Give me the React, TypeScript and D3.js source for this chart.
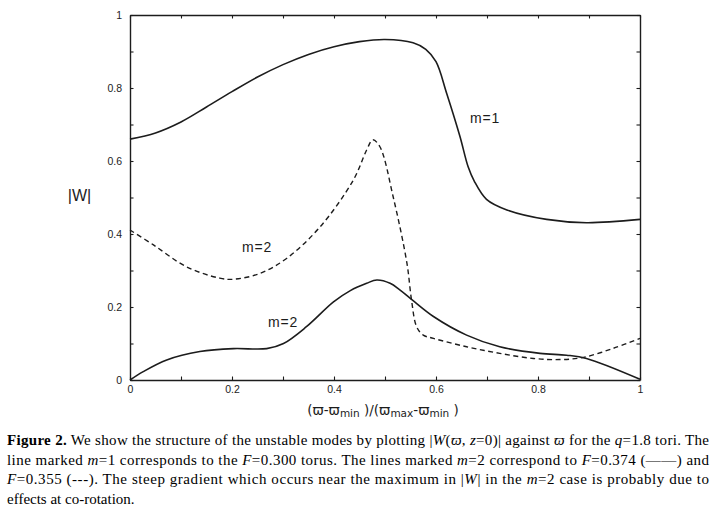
import * as d3 from "d3";
import { useEffect, useRef } from "react";

// m=1, F=0.300 torus (solid)
const m1X = [0, 0.05, 0.1, 0.15, 0.2, 0.25, 0.3, 0.35, 0.4, 0.45, 0.5, 0.555, 0.58, 0.6, 0.621, 0.647, 0.663, 0.675, 0.699, 0.739, 0.817, 0.895, 1.0];
const m1Y = [0.66, 0.677, 0.707, 0.748, 0.79, 0.83, 0.864, 0.892, 0.913, 0.927, 0.933, 0.924, 0.906, 0.872, 0.785, 0.667, 0.584, 0.545, 0.495, 0.466, 0.44, 0.431, 0.44];

// m=2, F=0.355 (dashed)
const m2dX = [0, 0.046, 0.111, 0.176, 0.203, 0.255, 0.307, 0.373, 0.438, 0.464, 0.476, 0.49, 0.516, 0.543, 0.552, 0.562, 0.575, 0.595, 0.66, 0.725, 0.791, 0.843, 0.889, 0.948, 1.0];
const m2dY = [0.411, 0.37, 0.31, 0.279, 0.276, 0.292, 0.333, 0.42, 0.548, 0.63, 0.658, 0.639, 0.502, 0.32, 0.219, 0.146, 0.123, 0.114, 0.091, 0.073, 0.059, 0.056, 0.062, 0.087, 0.114];

// m=2, F=0.374 (solid)
const m2sX = [0, 0.026, 0.072, 0.137, 0.203, 0.268, 0.301, 0.346, 0.399, 0.432, 0.464, 0.484, 0.51, 0.529, 0.552, 0.595, 0.66, 0.725, 0.804, 0.856, 0.895, 1.0];
const m2sY = [0, 0.023, 0.055, 0.078, 0.086, 0.086, 0.1, 0.146, 0.214, 0.245, 0.265, 0.274, 0.265, 0.247, 0.221, 0.174, 0.123, 0.091, 0.073, 0.068, 0.059, 0.002];

const tickValues = d3.range(11).map((i) => i / 10);
const tickLabel = (v: number) => (Math.round(v * 10) % 2 === 0 ? String(v) : "");

const labels = [
  { text: "m=1", x: 0.696, y: 0.718 },
  { text: "m=2", x: 0.249, y: 0.364 },
  { text: "m=2", x: 0.3, y: 0.159 },
];

const W = 726;
const H = 510;
const margin = { left: 130, right: 86, top: 15, bottom: 130 };
const ink = "#1c1c1c";
const sans = "'Liberation Sans', Arial, sans-serif";
const serif = "'Liberation Serif', 'Times New Roman', serif";

export default function App() {
  const gRef = useRef<SVGGElement>(null);
  const width = W - margin.left - margin.right;
  const height = H - margin.top - margin.bottom;
  const x = d3.scaleLinear().domain([0, 1]).range([0, width]);
  const y = d3.scaleLinear().domain([0, 1]).range([height, 0]);

  useEffect(() => {
    const g = d3.select(gRef.current);
    g.selectAll("*").remove();

    const style = (sel: d3.Selection<SVGGElement, unknown, null, undefined>) => {
      sel.select(".domain").attr("stroke", ink).attr("stroke-width", 1.4);
      sel.selectAll(".tick line").attr("stroke", ink).attr("stroke-width", 1.1);
      sel.selectAll(".tick text").attr("fill", ink).attr("font-family", sans).attr("font-size", 10.5);
    };

    g.append("g")
      .attr("transform", `translate(0,${height})`)
      .call(d3.axisBottom(x).tickValues(tickValues).tickFormat((d) => tickLabel(+d)).tickSizeInner(-3.5).tickSizeOuter(0).tickPadding(6))
      .call(style);
    g.append("g")
      .call(d3.axisLeft(y).tickValues(tickValues).tickFormat((d) => tickLabel(+d)).tickSizeInner(-3.5).tickSizeOuter(0).tickPadding(8))
      .call(style);
    g.append("g")
      .call(d3.axisTop(x).tickValues(tickValues).tickFormat(() => "").tickSizeInner(-3.5).tickSizeOuter(0))
      .call(style);
    g.append("g")
      .attr("transform", `translate(${width},0)`)
      .call(d3.axisRight(y).tickValues(tickValues).tickFormat(() => "").tickSizeInner(-3.5).tickSizeOuter(0))
      .call(style);
  }, [width, height]);

  const line = (xs: number[], ys: number[]) =>
    d3
      .line<number>()
      .x((_, i) => x(xs[i]))
      .y((d) => y(d))
      .curve(d3.curveCatmullRom.alpha(0.5))(ys) ?? "";

  const sub = { fontSize: 10.5, baselineShift: "-25%" } as const;

  return (
    <svg width={W} height={H} style={{ position: "absolute", left: 0, top: 0, background: "#fff" }}>
      <g transform={`translate(${margin.left},${margin.top})`}>
        <path d={line(m1X, m1Y)} fill="none" stroke={ink} strokeWidth={1.6} />
        <path d={line(m2sX, m2sY)} fill="none" stroke={ink} strokeWidth={1.6} />
        <path d={line(m2dX, m2dY)} fill="none" stroke={ink} strokeWidth={1.4} strokeDasharray="5,3.5" />
        <g ref={gRef} />
        {labels.map((l, i) => (
          <text key={i} x={x(l.x)} y={y(l.y)} textAnchor="middle" dominantBaseline="central" fontFamily={sans} fontSize={14} letterSpacing={0.8} fill={ink}>
            {l.text}
          </text>
        ))}
      </g>
      <text x={79.5} y={195} textAnchor="middle" dominantBaseline="central" fontFamily={sans} fontSize={16} fill={ink}>
        |W|
      </text>
      <text x={383} y={410} textAnchor="middle" dominantBaseline="central" fontFamily="'DejaVu Sans', sans-serif" fontSize={13.5} fill={ink}>
        (ϖ-ϖ<tspan style={sub}>min</tspan>
        <tspan> )/(ϖ</tspan>
        <tspan style={sub}>max</tspan>
        <tspan>-ϖ</tspan>
        <tspan style={sub}>min</tspan>
        <tspan> )</tspan>
      </text>
      <g fontFamily={serif} fontSize={15} fill="#000">
        <text x={7} y={445} textLength={702} lengthAdjust="spacing">
          <tspan fontWeight="bold">Figure 2.</tspan> We show the structure of the unstable modes by plotting |<tspan fontStyle="italic">W</tspan>(<tspan fontStyle="italic">ϖ</tspan>, <tspan fontStyle="italic">z</tspan>=0)| against <tspan fontStyle="italic">ϖ</tspan> for the <tspan fontStyle="italic">q</tspan>=1.8 tori. The
        </text>
        <text x={7} y={464.5} textLength={702} lengthAdjust="spacing">
          line marked <tspan fontStyle="italic">m</tspan>=1 corresponds to the <tspan fontStyle="italic">F</tspan>=0.300 torus. The lines marked <tspan fontStyle="italic">m</tspan>=2 correspond to <tspan fontStyle="italic">F</tspan>=0.374 (——) and
        </text>
        <text x={7} y={484} textLength={702} lengthAdjust="spacing">
          <tspan fontStyle="italic">F</tspan>=0.355 (---). The steep gradient which occurs near the maximum in |<tspan fontStyle="italic">W</tspan>| in the <tspan fontStyle="italic">m</tspan>=2 case is probably due to
        </text>
        <text x={7} y={503.5}>effects at co-rotation.</text>
      </g>
    </svg>
  );
}
